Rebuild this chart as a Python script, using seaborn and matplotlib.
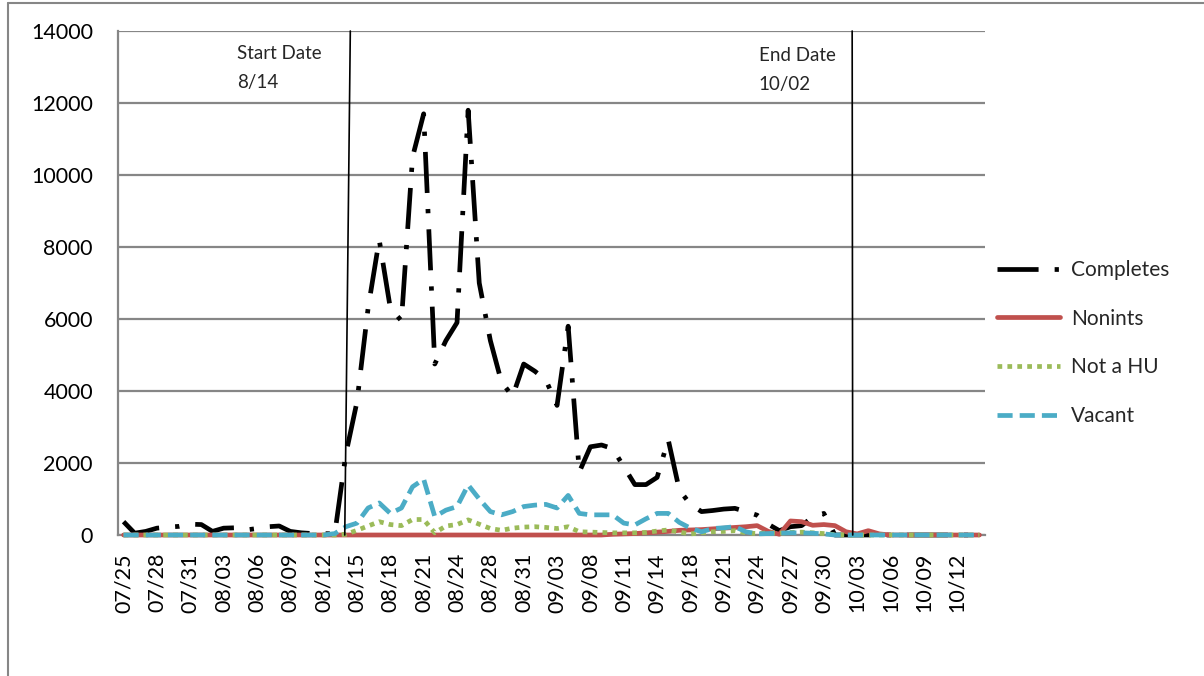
import matplotlib
matplotlib.use("Agg")
import matplotlib.pyplot as plt
import seaborn as sns
import numpy as np
import pandas as pd
from matplotlib.lines import Line2D

# ---------------- data ----------------
dates = (
    ["07/25", "07/26", "07/27", "07/28", "07/29", "07/30", "07/31"]
    + ["08/%02d" % d for d in range(1, 25)]
    + ["08/25", "08/27", "08/28", "08/29", "08/30", "08/31"]
    + ["09/01", "09/02", "09/03", "09/04", "09/07"]
    + ["09/%02d" % d for d in range(8, 15)]
    + ["09/15", "09/17"]
    + ["09/%02d" % d for d in range(18, 31)]
    + ["10/%02d" % d for d in range(1, 15)]
)

completes = [370, 50, 100, 190, 220, 240, 300, 290, 100, 190,
             200, 140, 180, 230, 250, 100, 60, 40, 40, 30,
             2250, 3700, 6300, 8200, 6300, 5950, 10500, 11700, 4750, 5400,
             5900, 11800, 7000, 5400, 4250, 3850, 4750, 4550, 4300, 3600,
             5800, 1750, 2450, 2500, 2400, 1900, 1400, 1400, 1600, 2650,
             1250, 850, 650, 680, 720, 740, 650, 550, 300, 120,
             230, 260, 500, 600, 0, 0, 0, 0, 0, 0,
             0, 0, 0, 0, 0, 0, 0, 0]
nonints = [0] * 44 + [20, 30, 40, 60, 80, 100, 130, 140, 150, 170,
                      190, 210, 230, 260, 100, 20, 390, 370, 270, 290,
                      260, 90, 30, 120, 30] + [0] * 9
not_a_hu = [0] * 20 + [20, 130, 250, 370, 290, 260, 430, 430, 60, 250,
                       290, 420, 300, 180, 130, 190, 220, 230, 210, 180,
                       230, 90, 80, 70, 60, 60, 60, 70, 110, 140,
                       80, 30, 60, 90, 100, 120, 60, 40, 60, 50,
                       70, 80, 60, 40, 10] + [0] * 13
vacant = [0] * 19 + [40, 230, 330, 750, 890, 600, 750, 1340, 1550, 510,
                     690, 790, 1390, 1000, 650, 560, 650, 790, 830, 850,
                     750, 1100, 600, 560, 560, 560, 330, 280, 450, 600,
                     600, 350, 190, 90, 180, 200, 230, 90, 30, 40,
                     50, 60, 60, 50, 30] + [0] * 14

series_names = ["Completes", "Nonints", "Not a HU", "Vacant"]
y_ticks = [0, 2000, 4000, 6000, 8000, 10000, 12000, 14000]
start_label = "Start Date\n8/14"
end_label = "End Date\n10/02"

# ---------------- figure ----------------
sns.set_theme(style="white")
plt.rcParams["font.family"] = ["Lato", "DejaVu Sans"]

W, H = 1204, 676
fig = plt.figure(figsize=(W / 100, H / 100), dpi=100)
L, R, T, B = 118, 985, 31, 535
ax = fig.add_axes([L / W, 1 - B / H, (R - L) / W, (B - T) / H])

x = np.arange(len(dates))
grey = "#868686"
lw = 3.4

styles = [
    dict(color="black", linestyle=(0, (8.7, 3.4, 0.9, 3.4)), dash_capstyle="butt"),
    dict(color="#C0504D", linestyle="-", solid_capstyle="round"),
    dict(color="#9BBB59", linestyle=(0, (1.0, 1.1)), dash_capstyle="butt"),
    dict(color="#4BACC6", linestyle=(0, (3.2, 1.5)), dash_capstyle="butt"),
]
data = [completes, nonints, not_a_hu, vacant]
for name, vals, st in zip(series_names, data, styles):
    sns.lineplot(x=x, y=np.array(vals, dtype=float), ax=ax, lw=lw, label=name,
                 clip_on=False, zorder=3, **st)

ax.set_xlim(-0.5, len(dates) - 0.5)
ax.set_ylim(0, 14000)

# grid & spines
ax.set_yticks(y_ticks)
ax.set_yticklabels([str(v) for v in y_ticks])
ax.yaxis.grid(True, color=grey, lw=1.6)
ax.xaxis.grid(False)
for s in ["top", "right"]:
    ax.spines[s].set_visible(False)
for s in ["left", "bottom"]:
    ax.spines[s].set_color(grey)
    ax.spines[s].set_linewidth(1.6)
ax.set_axisbelow(True)

# x ticks: labels at every 3rd category centre, marks at category boundaries
ax.set_xticks(x[::3])
ax.set_xticklabels(dates[::3], rotation=90, fontsize=15.5)
ax.set_xticks(np.arange(len(dates) + 1) - 0.5, minor=True)
ax.tick_params(axis="x", which="major", length=0, pad=13)
ax.tick_params(axis="x", which="minor", length=6, width=1.4, color=grey, direction="out")
ax.tick_params(axis="y", which="major", length=6, width=1.4, color=grey,
               direction="out", labelsize=15.5, pad=12)
ax.tick_params(axis="both", labelcolor="black")
ax.set_xlabel("")
ax.set_ylabel("")

# start / end marker lines
s_idx = dates.index("08/14")
e_idx = dates.index("10/02")
ax.plot([s_idx - 0.1, s_idx + 0.4], [0, 14000], color="black", lw=1.2, zorder=4, clip_on=False)
ax.plot([e_idx + 0.6, e_idx + 0.55], [0, 14000], color="black", lw=1.2, zorder=4, clip_on=False)
ax.text(s_idx - 9.8, 13600, start_label, fontsize=13.5, va="top", ha="left", linespacing=1.85)
ax.text(e_idx - 7.85, 13560, end_label, fontsize=13.5, va="top", ha="left", linespacing=1.85)

# legend
handles, labels = ax.get_legend_handles_labels()
ax.legend(handles, labels, loc="center left", bbox_to_anchor=(997 / W, 1 - 343 / H),
          bbox_transform=fig.transFigure, frameon=False, fontsize=15,
          handlelength=3.0, handletextpad=0.55, labelspacing=1.38,
          borderaxespad=0, borderpad=0)

# outer border (left & top)
fig.add_artist(Line2D([8 / W, 8 / W], [0, 1 - 3 / H], color=grey, lw=1.5, transform=fig.transFigure))
fig.add_artist(Line2D([8 / W, 1], [1 - 3 / H, 1 - 3 / H], color=grey, lw=1.5, transform=fig.transFigure))

fig.savefig("out.png", dpi=100, facecolor="white")
